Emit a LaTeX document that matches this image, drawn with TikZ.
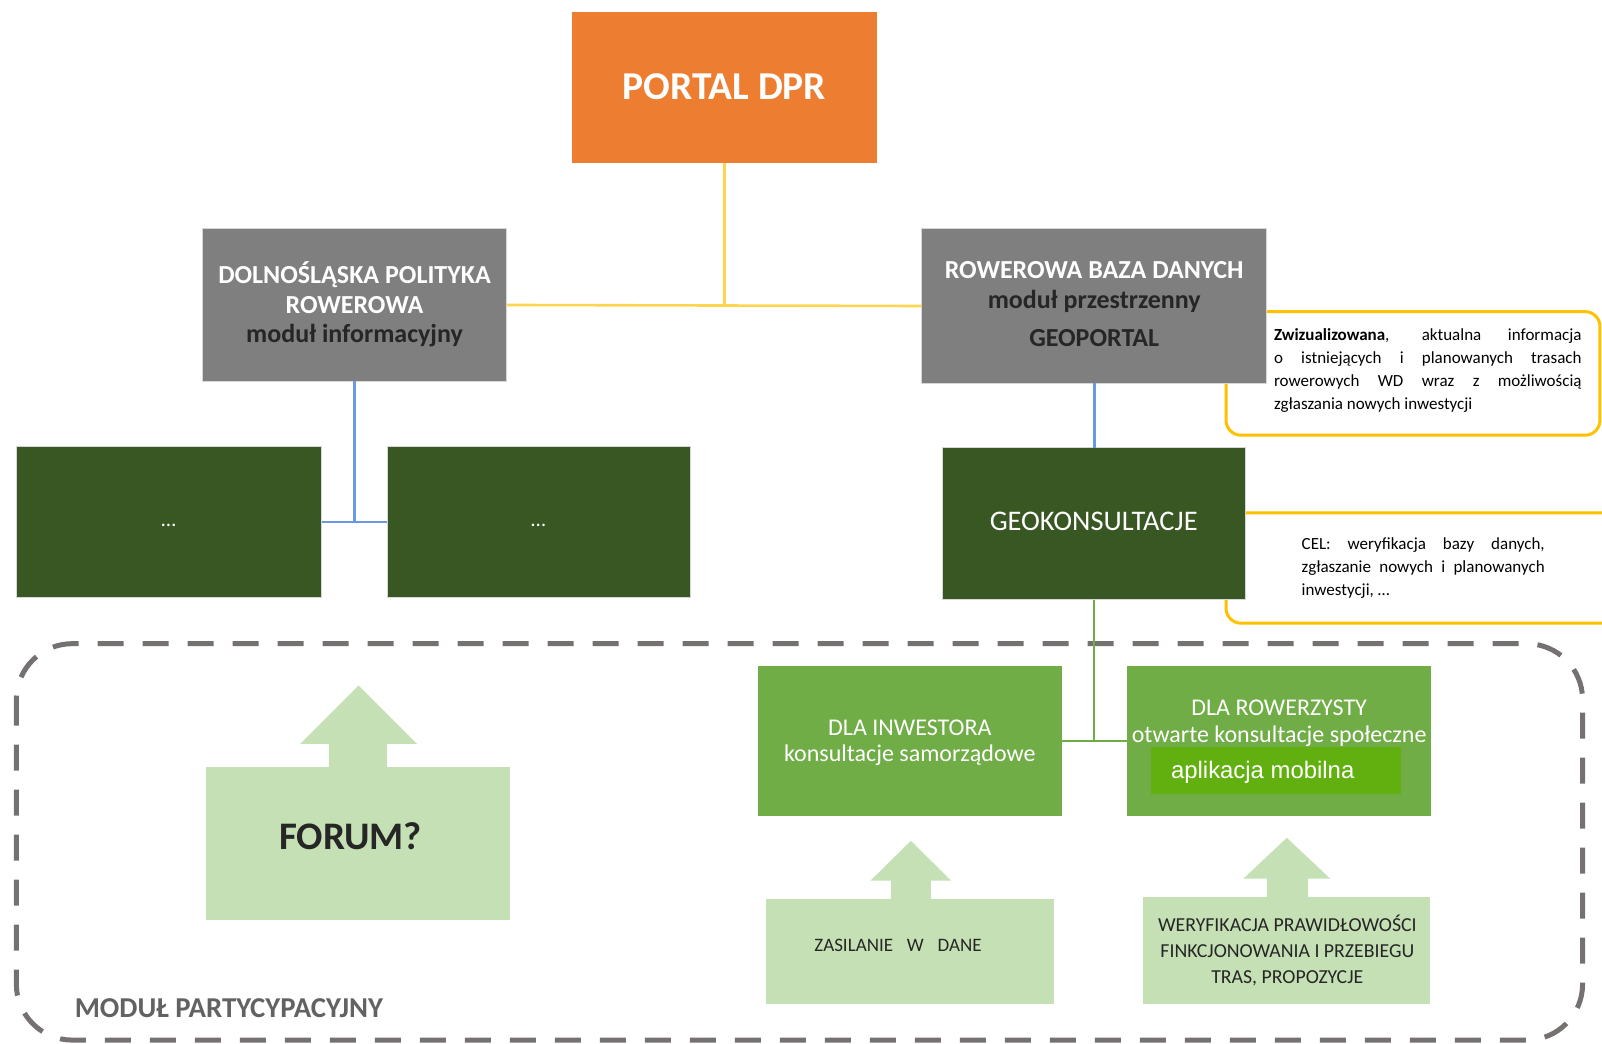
\documentclass[tikz,border=0pt]{standalone}
\usepackage{fontspec}
\setmainfont{Carlito}
\newfontfamily\arialf{Liberation Sans}
\usetikzlibrary{fit}
\definecolor{orangeP}{HTML}{ED7D31}
\definecolor{grayB}{HTML}{7F7F7F}
\definecolor{darkG}{HTML}{385723}
\definecolor{midG}{HTML}{70AD47}
\definecolor{lightG}{HTML}{C5E0B4}
\definecolor{appG}{HTML}{62B010}
\definecolor{yelL}{HTML}{FFD54F}
\definecolor{yelC}{HTML}{FFC000}
\definecolor{blueL}{HTML}{6A98E6}
\definecolor{dashG}{HTML}{767171}
\definecolor{txtD}{HTML}{262626}
\definecolor{modG}{HTML}{626262}
\definecolor{edgeL}{HTML}{D6D6D6}
\begin{document}
\begin{tikzpicture}[x=1.0217pt,y=-1.0217pt,
  basebox/.style={inner sep=0pt, outer sep=0pt},
  portalbox/.style={basebox, fill=orangeP},
  graybox/.style={basebox, fill=grayB, draw=edgeL, line width=1pt},
  darkbox/.style={basebox, fill=darkG, draw=edgeL, line width=0.8pt},
  greenbox/.style={basebox, fill=midG},
  lightbox/.style={basebox, fill=lightG},
  boxtext/.style={inner sep=0pt, outer sep=0pt, align=center},
  whitetext/.style={boxtext, text=white},
  graytext/.style={whitetext, font=\fontsize{26}{29.5}\selectfont\bfseries},
  greentext/.style={whitetext, font=\fontsize{24}{26.8}\selectfont},
  lighttext/.style={boxtext, text=txtD},
  yline/.style={draw=yelL, line width=2.6pt},
  bline/.style={draw=blueL, line width=2.6pt},
  gline/.style={draw=midG, line width=2.4pt},
  callout/.style={draw=yelC, line width=3pt, rounded corners=15pt},
  calltext/.style={inner sep=0pt, align=justify, text=black, font=\fontsize{17}{23}\selectfont},
]
\useasboundingbox (0,0) rectangle (1568,1021);
\clip (0,0) rectangle (1568,1021);

% callout frames (behind the boxes)
\draw[callout] (1200,305) rectangle (1566,426);
\draw[callout] (1200,502) rectangle (1600,610);

% dashed frame of the participatory module
\draw[draw=dashG, line width=5pt, dash pattern=on 26pt off 19pt, rounded corners=56pt]
  (16,630) rectangle (1549,1018);

% boxes
\node[portalbox, fit={(560,12) (858,160)}] (portal) {};
\node[whitetext, font=\fontsize{39.5}{46}\selectfont\bfseries] (portaltext) at (709,85) {PORTAL DPR};

\node[graybox, fit={(198,224) (496,373)}] (dpr) {};
\node[graytext] (dprtext) at (347,298) {DOLNOŚLĄSKA POLITYKA\\ROWEROWA\\\textcolor{txtD}{moduł informacyjny}};

\node[graybox, fit={(902,224) (1240,375)}] (rbd) {};
\node[graytext] (rbdtext) at (1071,298) {ROWEROWA BAZA DANYCH\\\textcolor{txtD}{moduł przestrzenny}\\[9pt]\textcolor{txtD}{GEOPORTAL}};

\node[darkbox, fit={(16,437) (315,585)}] (dg1) {};
\node[whitetext, font=\fontsize{21}{24}\selectfont] (dg1text) at (165,514) {\ldots};
\node[darkbox, fit={(379,437) (676,585)}] (dg2) {};
\node[whitetext, font=\fontsize{21}{24}\selectfont] (dg2text) at (527,514) {\ldots};

\node[darkbox, fit={(922,438) (1219,587)}] (geok) {};
\node[whitetext, font=\fontsize{28.4}{33}\selectfont] (geoktext) at (1070.5,510) {GEOKONSULTACJE};

% callout texts
\node[calltext, text width=307.5pt] (c1text) at (1397.5,363)
  {\textbf{Zwizualizowana}, aktualna informacja\linebreak o istniejących i planowanych trasach\linebreak rowerowych WD wraz z możliwością\linebreak zgłaszania nowych inwestycji};
\node[calltext, text width=243pt] (c2text) at (1393,556)
  {CEL: weryfikacja bazy danych,\linebreak zgłaszanie nowych i planowanych\linebreak inwestycji, \ldots};

% green consultation boxes
\node[greenbox, fit={(742,652) (1039,799)}] (inw) {};
\node[greentext] (inwtext) at (890.5,727) {DLA INWESTORA\\konsultacje samorządowe};
\node[greenbox, fit={(1103,652) (1401,799)}] (row) {};
\node[greentext] (rowtext) at (1252,708) {DLA ROWERZYSTY\\otwarte konsultacje społeczne};
\node[basebox, fill=appG, fit={(1127,731) (1371,777)}] (app) {};
\node[inner sep=0pt, anchor=west, text=white, font=\arialf\fontsize{23.9}{27}\selectfont] (apptext) at (1146,756) {aplikacja mobilna};

% light green arrow boxes
\node[lightbox, fit={(202,751) (499,900)}] (forum) {};
\fill[lightG] (322,752) -- (322,728) -- (294,728) -- (351,671) -- (408,728) -- (379,728) -- (379,752) -- cycle;
\node[lighttext, font=\fontsize{39}{45}\selectfont\bfseries] (forumtext) at (343,818) {FORUM?};

\node[lightbox, fit={(750,880) (1032,983)}] (zas) {};
\fill[lightG] (872,881) -- (872,862) -- (852,862) -- (891.5,823) -- (931,862) -- (911,862) -- (911,881) -- cycle;
\node[lighttext, font=\fontsize{19}{23.5}\selectfont] (zastext) at (879,925) {ZASILANIE\hspace{0.73em}W\hspace{0.73em}DANE};

\node[lightbox, fit={(1119,878) (1400,983)}] (wer) {};
\node[lighttext, font=\fontsize{19.8}{26}\selectfont] (wertext) at (1260,930)
  {WERYFIKACJA PRAWIDŁOWOŚCI\\FINKCJONOWANIA I PRZEBIEGU\\TRAS, PROPOZYCJE};
\fill[lightG] (1240,879) -- (1240,860) -- (1217,860) -- (1259.5,820) -- (1302,860) -- (1280,860) -- (1280,879) -- cycle;

\node[inner sep=0pt, anchor=west, text=modG, font=\fontsize{28.8}{33}\selectfont\bfseries] (modul) at (73,987) {MODUŁ PARTYCYPACYJNY};

% connectors
\draw[yline] (dpr.east) -- (rbd.west);
\draw[yline] (portal.south) -- (portal.south |- dpr.east);
\draw[bline] (dpr.south) -- (dpr.south |- dg1.east);
\draw[bline] (dg1.east) -- (dg2.west);
\draw[bline] (rbd.south) -- (rbd.south |- geok.north);
\draw[gline] (geok.south) -- (geok.south |- inw.east);
\draw[gline] (inw.east) -- (row.west);
\end{tikzpicture}
\end{document}
